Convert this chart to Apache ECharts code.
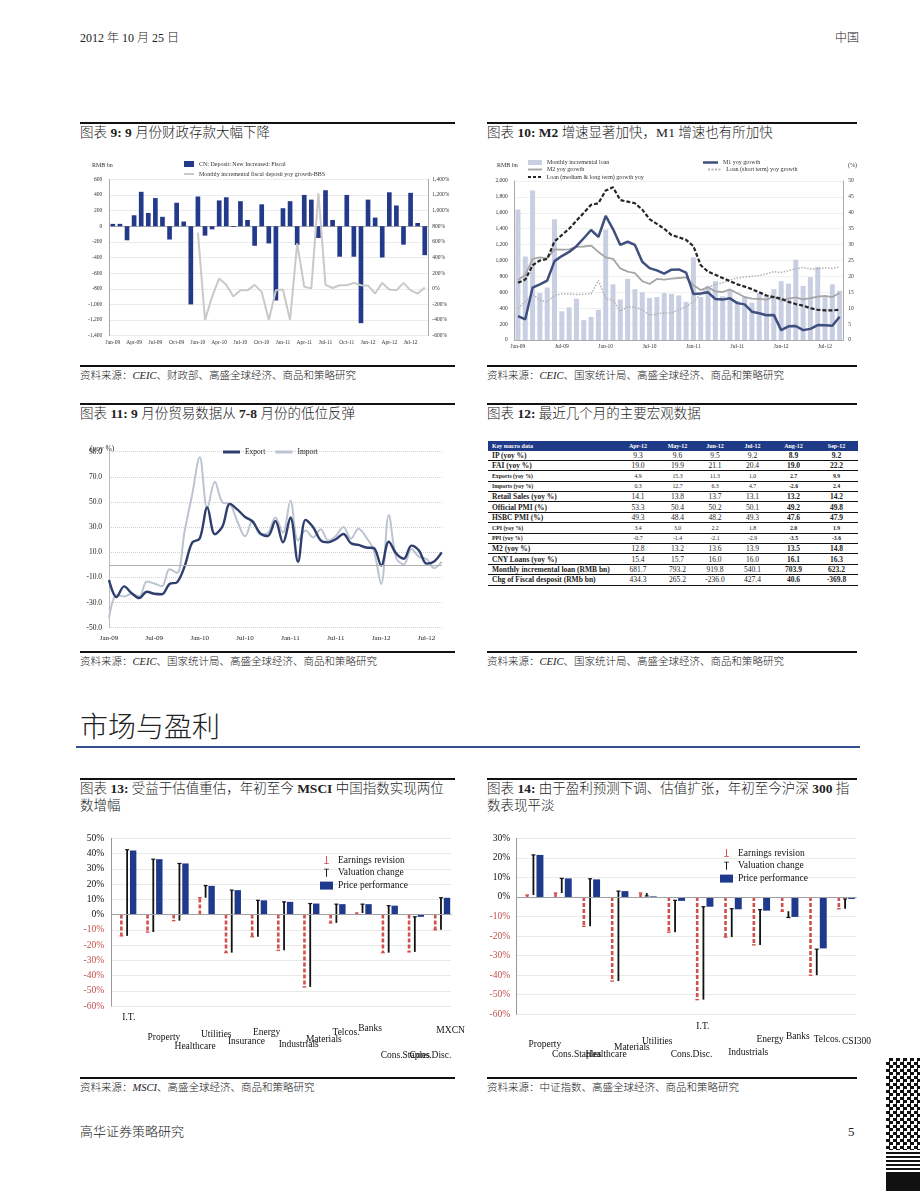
<!DOCTYPE html>
<html><head><meta charset="utf-8">
<script src="https://cdn.jsdelivr.net/npm/echarts/dist/echarts.min.js"></script>
<style>
body{margin:0;background:#fff;}
#page{position:relative;width:920px;height:1191px;overflow:hidden;font-family:"Liberation Serif","Noto Sans CJK SC",serif;color:#222;font-weight:300;}
.t{position:absolute;white-space:nowrap;}
.t b{font-weight:bold;}
.rule{position:absolute;height:2px;background:#111;}
.ttl{font-size:13.5px;line-height:17px;}
.src{font-size:10.5px;line-height:13px;}
.ch{position:absolute;}
#tbl{position:absolute;left:488px;top:441px;width:370px;font-family:"Liberation Serif",serif;font-weight:normal;}
.row{display:flex;height:10.4px;box-sizing:border-box;border-bottom:1.4px solid #111;align-items:center;}
.hdr{height:9.5px;background:#1f3a87;color:#fff;font-weight:bold;font-size:6px;border-bottom:none;}
.cell{text-align:center;}
.big{font-size:7.5px;}
.small{font-size:5.8px;}
.lab{width:130px;padding-left:4px;box-sizing:border-box;font-weight:bold;}
</style></head>
<body><div id="page">
<div class="t" style="left:80px;top:28px;font-size:12px;">2012 年 10 月 25 日</div>
<div class="t" style="left:835px;top:28px;font-size:12px;">中国</div>

<div class="rule" style="left:80px;top:122px;width:375px;"></div>
<div class="t ttl" style="left:80px;top:124px;">图表 <b>9: 9</b> 月份财政存款大幅下降</div>
<div class="rule" style="left:487px;top:122px;width:370px;"></div>
<div class="t ttl" style="left:487px;top:124px;">图表 <b>10: M2</b> 增速显著加快，M1 增速也有所加快</div>

<div id="c9" class="ch" style="left:80px;top:150px;width:380px;height:200px;"></div>
<div id="c10" class="ch" style="left:485px;top:150px;width:380px;height:205px;"></div>

<div class="rule" style="left:80px;top:365px;width:375px;"></div>
<div class="t src" style="left:80px;top:369px;">资料来源：<i>CEIC</i>、财政部、高盛全球经济、商品和策略研究</div>
<div class="rule" style="left:487px;top:365px;width:370px;"></div>
<div class="t src" style="left:487px;top:369px;">资料来源：<i>CEIC</i>、国家统计局、高盛全球经济、商品和策略研究</div>

<div class="rule" style="left:80px;top:403px;width:375px;"></div>
<div class="t ttl" style="left:80px;top:405px;">图表 <b>11: 9</b> 月份贸易数据从 <b>7-8</b> 月份的低位反弹</div>
<div class="rule" style="left:487px;top:403px;width:370px;"></div>
<div class="t ttl" style="left:487px;top:405px;">图表 <b>12:</b> 最近几个月的主要宏观数据</div>

<div id="c11" class="ch" style="left:80px;top:435px;width:380px;height:215px;"></div>
<div id="tbl"></div>

<div class="rule" style="left:80px;top:651px;width:375px;"></div>
<div class="t src" style="left:80px;top:655px;">资料来源：<i>CEIC</i>、国家统计局、高盛全球经济、商品和策略研究</div>
<div class="rule" style="left:487px;top:651px;width:370px;"></div>
<div class="t src" style="left:487px;top:655px;">资料来源：<i>CEIC</i>、国家统计局、高盛全球经济、商品和策略研究</div>

<div class="t" style="left:80px;top:712px;font-size:28px;line-height:32px;">市场与盈利</div>
<div style="position:absolute;left:76px;top:746px;width:784px;height:2px;background:#34508c;"></div>

<div class="rule" style="left:80px;top:778px;width:375px;"></div>
<div class="t ttl" style="left:80px;top:780px;">图表 <b>13:</b> 受益于估值重估，年初至今 <b>MSCI</b> 中国指数实现两位<br>数增幅</div>
<div class="rule" style="left:487px;top:778px;width:370px;"></div>
<div class="t ttl" style="left:487px;top:780px;">图表 <b>14:</b> 由于盈利预测下调、估值扩张，年初至今沪深 <b>300</b> 指<br>数表现平淡</div>

<div id="c13" class="ch" style="left:80px;top:820px;width:390px;height:250px;"></div>
<div id="c14" class="ch" style="left:485px;top:820px;width:390px;height:250px;"></div>

<div class="rule" style="left:80px;top:1077px;width:375px;"></div>
<div class="t src" style="left:80px;top:1081px;">资料来源：<i>MSCI</i>、高盛全球经济、商品和策略研究</div>
<div class="rule" style="left:487px;top:1077px;width:370px;"></div>
<div class="t src" style="left:487px;top:1081px;">资料来源：中证指数、高盛全球经济、商品和策略研究</div>

<div class="t" style="left:80px;top:1124px;font-size:13px;line-height:16px;">高华证券策略研究</div>
<div class="t" style="left:848px;top:1124px;font-size:13px;line-height:16px;">5</div>

<div style="position:absolute;left:886px;top:1058px;width:34px;height:92px;background:repeating-conic-gradient(#111 0 25%,#fff 0 50%) 0 0/7px 7px;"></div>
<div style="position:absolute;left:886px;top:1152px;width:34px;height:18px;background:repeating-linear-gradient(#111 0 2px,#fff 2px 4px);"></div>
<div style="position:absolute;left:886px;top:1172px;width:34px;height:19px;background:#111;"></div>
</div>
<script>
// ---------- shared categories ----------
const months = ['Jan-09','Feb-09','Mar-09','Apr-09','May-09','Jun-09','Jul-09','Aug-09','Sep-09','Oct-09','Nov-09','Dec-09',
 'Jan-10','Feb-10','Mar-10','Apr-10','May-10','Jun-10','Jul-10','Aug-10','Sep-10','Oct-10','Nov-10','Dec-10',
 'Jan-11','Feb-11','Mar-11','Apr-11','May-11','Jun-11','Jul-11','Aug-11','Sep-11','Oct-11','Nov-11','Dec-11',
 'Jan-12','Feb-12','Mar-12','Apr-12','May-12','Jun-12','Jul-12','Aug-12','Sep-12'];

// ---------- chart 9 ----------
const fiscalDeposit = [30,30,-180,140,440,170,360,120,-170,300,60,-1000,
 380,-120,-40,330,370,-10,320,80,-250,280,-220,-950,
 230,320,-240,400,340,-150,460,80,-390,400,-390,-1240,
 340,110,-400,434,265,-236,427,41,-370];
const fiscalYoy = [null,null,null,null,null,null,null,null,null,null,null,null,
 720,-400,-100,130,50,-100,-20,-20,50,-40,-400,-20,
 -10,-400,580,25,5,1220,50,10,45,45,75,45,
 40,-60,75,-10,-20,75,-20,-60,15];

// ---------- chart 10 ----------
const monthlyLoan = [1640,1050,1880,590,660,1520,360,410,520,250,290,380,
 1390,700,510,770,640,600,530,540,590,580,560,480,
 1040,540,680,740,550,630,490,550,470,590,560,640,
 740,710,1010,680,790,920,540,700,620];
const m1Yoy = [7.5,6.5,16.5,17.5,18.7,24.8,26.4,27.7,29.5,32.0,34.6,32.4,
 39.0,34.9,29.9,30.9,29.9,24.6,22.6,21.9,20.9,22.1,22.2,21.2,
 14.5,14.6,15.0,12.9,12.7,13.1,11.6,11.2,8.9,8.4,7.8,7.9,
 3.1,4.3,4.4,3.1,3.5,4.7,4.6,4.5,7.3];
const m2Yoy = [18.8,20.5,25.5,26.0,25.7,28.5,28.4,28.5,29.3,29.4,29.7,27.7,
 26.0,25.5,22.5,21.5,21.0,18.5,17.6,19.2,19.0,19.3,19.5,19.7,
 17.2,15.7,16.6,15.3,15.1,15.9,14.7,13.5,13.0,12.9,12.7,13.6,
 12.4,13.0,13.4,12.8,13.2,13.6,13.9,13.5,14.8];
const shortLoanYoy = [10,12,14.5,12.5,12,14,14.5,14.5,14.3,14.4,14.5,18.7,
 13,12.5,9,10.5,10.3,9.5,7.8,8.2,8.5,8.5,9.5,10.5,
 12,14.5,16.5,17.5,18,18.8,19.5,19.8,20,20.3,20.8,21.5,
 21.2,21.8,22.4,22.8,22.3,22.4,22.7,22.5,23];
const mltLoanYoy = [18,19,23.5,25,25.5,31,33,35,37.5,40,42.5,43,
 47,48,44,43.5,43,41,38,36.5,35,33,32.3,31.5,
 29.5,23.5,21.5,20.5,19.5,18.5,17.5,16.8,16,15,14,13.5,
 13,12,11.3,10.8,10,9.5,9.3,9.3,9.5];

// ---------- chart 11 ----------
const exportYoy = [-12,-25.7,-17.1,-22.6,-26.4,-21.4,-23,-23.4,-15.2,-13.8,-1.2,17.7,
 21,45.7,24.3,30.5,48.5,43.9,38.1,34.4,25.1,22.9,34.9,17.9,
 37.7,2.4,35.8,29.9,19.4,17.9,20.4,24.5,17.1,15.9,13.8,13.4,
 -0.5,18.4,8.9,4.9,15.3,11.3,1.0,2.7,9.9];
const importYoy = [-42,-24.1,-25.1,-23,-25.2,-13.2,-14.9,-17,-3.5,-6.4,26.7,55.9,
 85.5,44.7,66,49.7,48.3,34.1,22.7,35.2,24.1,25.3,37.7,25.6,
 51,19.4,27.3,21.8,28.4,19.3,23,30.2,20.9,28.7,22.1,11.8,
 -15.3,39.6,5.3,0.3,12.7,6.3,4.7,-2.6,2.4];

// ---------- table 12 ----------
const tableMonths = ['Apr-12','May-12','Jun-12','Jul-12','Aug-12','Sep-12'];
const rowIP = ['9.3','9.6','9.5','9.2','8.9','9.2'];
const rowFAI = ['19.0','19.9','21.1','20.4','19.0','22.2'];
const rowExports = ['4.9','15.3','11.3','1.0','2.7','9.9'];
const rowImports = ['0.3','12.7','6.3','4.7','-2.6','2.4'];
const rowRetail = ['14.1','13.8','13.7','13.1','13.2','14.2'];
const rowOfficialPMI = ['53.3','50.4','50.2','50.1','49.2','49.8'];
const rowHSBCPMI = ['49.3','48.4','48.2','49.3','47.6','47.9'];
const rowCPI = ['3.4','3.0','2.2','1.8','2.0','1.9'];
const rowPPI = ['-0.7','-1.4','-2.1','-2.9','-3.5','-3.6'];
const rowM2 = ['12.8','13.2','13.6','13.9','13.5','14.8'];
const rowCNYLoans = ['15.4','15.7','16.0','16.0','16.1','16.3'];
const rowMonthlyLoan = ['681.7','793.2','919.8','540.1','703.9','623.2'];
const rowFiscal = ['434.3','265.2','-236.0','427.4','40.6','-369.8'];

// ---------- chart 13 ----------
const msciCats = ['I.T.','Property','Healthcare','Utilities','Insurance','Energy','Industrials','Materials','Telcos.','Banks','Cons.Staples','Cons.Disc.','MXCN'];
const msciEarnings = [-14,-11.5,-4,11,-25,-14.5,-23.5,-47.5,-5.5,1,-25,-24.5,-10];
const msciValuation = [56.5,47.8,37.5,8,41,23.8,31.8,54.7,12.3,5.8,30.8,23,21];
const msciPrice = [42,36.3,33.5,18.8,16,9.3,8.3,7.2,6.8,6.8,5.8,-1.5,11];

// ---------- chart 14 ----------
const csiCats = ['Property','Cons.Staples','Healthcare','Materials','Utilities','Cons.Disc.','I.T.','Industrials','Energy','Banks','Telcos.','CSI300'];
const csiEarnings = [1,2,-15,-43,2,-18,-52.5,-20.5,-24.5,-7.3,-40,-6];
const csiValuation = [20.5,7.5,24.3,46,-1.5,16.3,47.5,14.5,18,-3.2,13.3,5];
const csiPrice = [21.5,9.5,9,3,0.3,-2,-5,-6.3,-7,-10.2,-26.3,-1];

// layout-only: label offsets [dx, dy] for the staggered category labels
const msciLabelShift = [[4,1.5],[13,21.5],[18,30.5],[13,18.5],[17,25.5],[11,16.5],[17,28.5],[16,23.5],[12,16.5],[10,12.5],[19,39.5],[18,39.5],[12,14.5]];
const csiLabelShift = [[14,21],[17.5,31],[18.5,31],[16,24],[13,18],[19,30.5],[2,3],[19,28.5],[12.5,16],[12,13],[13,16],[14,18]];

const FF = 'Liberation Serif';

// ===== chart 9 =====
(function(){
  const S1='CN: Deposit: New Increased: Fiscal', S2='Monthly incremental fiscal deposit yoy growth-BBS';
  const c = echarts.init(document.getElementById('c9'));
  c.setOption({
    animation:false, textStyle:{fontFamily:FF},
    legend:[
      {data:[{name:S1,icon:'rect'}],left:104,top:11,padding:0,itemWidth:10,itemHeight:6,itemGap:4,textStyle:{fontSize:6,color:'#333',fontFamily:FF}},
      {data:[{name:S2,icon:'path://M0,0H10V2H0Z'}],left:104,top:21,padding:0,itemWidth:10,itemHeight:2,textStyle:{fontSize:6,color:'#333',fontFamily:FF}}
    ],
    graphic:[{type:'text',left:12,top:12,style:{text:'RMB bn',fontSize:6,fill:'#333',fontFamily:FF}}],
    grid:{left:29.3,right:31.7,top:29.3,bottom:14.3},
    xAxis:{type:'category',data:months,axisLine:{lineStyle:{color:'#aaa'}},axisTick:{show:false},
      axisLabel:{interval:2,fontSize:5.5,color:'#333',margin:4,fontFamily:FF}},
    yAxis:[
      {type:'value',min:-1400,max:600,interval:200,axisLine:{show:true,lineStyle:{color:'#aaa'}},
       axisLabel:{fontSize:5.5,color:'#333',margin:7,fontFamily:FF,formatter:v=>v.toLocaleString('en-US')},
       splitLine:{lineStyle:{color:'#d8d8d8',type:'dotted'}}},
      {type:'value',min:-600,max:1400,interval:200,axisLine:{show:true,lineStyle:{color:'#aaa'}},
       axisLabel:{fontSize:5.5,color:'#333',margin:4,fontFamily:FF,formatter:'{value}%'},splitLine:{show:false}}
    ],
    series:[
      {name:S1,type:'bar',data:fiscalDeposit,barWidth:'66%',itemStyle:{color:'#23398a'}},
      {name:S2,type:'line',yAxisIndex:1,data:fiscalYoy,symbol:'none',color:'#c9c9c9',lineStyle:{color:'#c9c9c9',width:2}}
    ]
  });
})();

// ===== chart 10 =====
(function(){
  const c = echarts.init(document.getElementById('c10'));
  const ts={fontSize:6,color:'#333',fontFamily:FF};
  const N1='Monthly incremental loan',N2='M1 yoy growth',N3='M2 yoy growth',N4='Loan (short term) yoy growth',N5='Loan (medium & long term) growth yoy';
  c.setOption({
    animation:false, textStyle:{fontFamily:FF},
    legend:[
      {data:[{name:N1,icon:'rect'}],left:43,top:9.5,padding:0,itemWidth:14,itemHeight:5,textStyle:ts},
      {data:[{name:N2,icon:'path://M0,0H15V2.5H0Z'}],left:218,top:9.5,padding:0,itemWidth:15,itemHeight:2.5,textStyle:ts},
      {data:[{name:N3,icon:'path://M0,0H15V2H0Z'}],left:43,top:16.5,padding:0,itemWidth:14,itemHeight:2,textStyle:ts},
      {data:[{name:N4,icon:'path://M0,0H2V2H0Z M3.5,0H5.5V2H3.5Z M7,0H9V2H7Z M10.5,0H12.5V2H10.5Z'}],left:223,top:16.5,padding:0,itemWidth:14,itemHeight:2,textStyle:ts},
      {data:[{name:N5,icon:'path://M0,0H3V2.2H0Z M5,0H8V2.2H5Z M10,0H13V2.2H10Z'}],left:43,top:24,padding:0,itemWidth:14,itemHeight:2.2,textStyle:ts}
    ],
    graphic:[
      {type:'text',left:12,top:12,style:{text:'RMB bn',fontSize:6,fill:'#333',fontFamily:FF}},
      {type:'text',left:363,top:12,style:{text:'(%)',fontSize:6,fill:'#333',fontFamily:FF}}
    ],
    grid:{left:29.3,right:21.7,top:31,bottom:15},
    xAxis:{type:'category',data:months,axisLine:{lineStyle:{color:'#aaa'}},axisTick:{show:false},
      axisLabel:{interval:5,fontSize:5.5,color:'#333',margin:4,fontFamily:FF}},
    yAxis:[
      {type:'value',min:0,max:2000,interval:200,axisLine:{show:true,lineStyle:{color:'#aaa'}},
       axisLabel:{fontSize:5.5,color:'#333',margin:6.5,fontFamily:FF,formatter:v=>v.toLocaleString('en-US')},
       splitLine:{lineStyle:{color:'#e2e2e2',type:'dotted'}}},
      {type:'value',min:0,max:50,interval:5,axisLine:{show:true,lineStyle:{color:'#aaa'}},
       axisLabel:{fontSize:5.5,color:'#333',margin:5,fontFamily:FF},splitLine:{show:false}}
    ],
    series:[
      {name:N1,type:'bar',data:monthlyLoan,barWidth:'68%',itemStyle:{color:'#c9cfe3'}},
      {name:N4,type:'line',yAxisIndex:1,data:shortLoanYoy,symbol:'none',color:'#b3b3b3',lineStyle:{color:'#b3b3b3',width:1.5,type:'dotted'}},
      {name:N3,type:'line',yAxisIndex:1,data:m2Yoy,symbol:'none',color:'#a6a6a6',lineStyle:{color:'#a6a6a6',width:1.8}},
      {name:N5,type:'line',yAxisIndex:1,data:mltLoanYoy,symbol:'none',color:'#262626',lineStyle:{color:'#262626',width:2.2,type:[4,2]}},
      {name:N2,type:'line',yAxisIndex:1,data:m1Yoy,symbol:'none',color:'#3f4f7e',lineStyle:{color:'#3f4f7e',width:2.5}}
    ]
  });
})();

// ===== chart 11 =====
(function(){
  const c = echarts.init(document.getElementById('c11'));
  c.setOption({
    animation:false, textStyle:{fontFamily:FF},
    legend:{data:[{name:'Export',icon:'path://M0,0H17V3H0Z'},{name:'Import',icon:'path://M0,0H17V3H0Z'}],
      left:143,top:13,padding:0,itemWidth:17,itemHeight:3,itemGap:10,textStyle:{fontSize:7.5,color:'#222',fontFamily:FF}},
    graphic:[{type:'text',left:10,top:10,style:{text:'(yoy %)',fontSize:7.5,fill:'#222',fontFamily:FF}}],
    grid:{left:29,right:18.3,top:16.7,bottom:22.3},
    xAxis:{type:'category',boundaryGap:false,data:months,axisLine:{show:false},axisTick:{show:false},
      axisLabel:{interval:5,fontSize:7,color:'#222',margin:7,fontFamily:FF}},
    yAxis:{type:'value',min:-50,max:90,interval:20,axisLine:{show:true,lineStyle:{color:'#bbb'}},
      axisLabel:{fontSize:7.5,color:'#222',margin:7,fontFamily:FF,formatter:v=>v.toFixed(1)},
      splitLine:{lineStyle:{color:'#cfcfcf',type:'dotted'}}},
    series:[
      {name:'Import',type:'line',data:importYoy,smooth:0.35,symbol:'none',color:'#bcc3d1',lineStyle:{color:'#bcc3d1',width:2},
       markLine:{silent:true,symbol:'none',label:{show:false},lineStyle:{color:'#b0b0b0',type:'solid',width:1.2},data:[{yAxis:0}]}},
      {name:'Export',type:'line',data:exportYoy,smooth:0.35,symbol:'none',color:'#2e3f6d',lineStyle:{color:'#2e3f6d',width:2.4}}
    ]
  });
})();

// ===== table 12 =====
(function(){
  const rows = [
    ['IP (yoy %)',rowIP,'big'],['FAI (yoy %)',rowFAI,'big'],['Exports (yoy %)',rowExports,'small'],['Imports (yoy %)',rowImports,'small'],
    ['Retail Sales (yoy %)',rowRetail,'big'],['Official PMI (%)',rowOfficialPMI,'big'],['HSBC PMI (%)',rowHSBCPMI,'big'],
    ['CPI (yoy %)',rowCPI,'small'],['PPI (yoy %)',rowPPI,'small'],['M2 (yoy %)',rowM2,'big'],['CNY Loans (yoy %)',rowCNYLoans,'big'],
    ['Monthly incremental loan (RMB bn)',rowMonthlyLoan,'big'],['Chg of Fiscal desposit (RMb bn)',rowFiscal,'big']
  ];
  const widths=[40,39,36,39,43,43];
  let h='<div class="row hdr"><div class="lab">Key macro data</div>'+tableMonths.map((m,i)=>`<div class="cell" style="width:${widths[i]}px">${m}</div>`).join('')+'</div>';
  rows.forEach(r=>{
    h+=`<div class="row ${r[2]}"><div class="lab">${r[0]}</div>`+r[1].map((v,i)=>`<div class="cell" style="width:${widths[i]}px;${i>=4?'font-weight:bold;':''}">${v}</div>`).join('')+'</div>';
  });
  document.getElementById('tbl').innerHTML=h;
})();

// ===== charts 13 & 14 =====
function waterfall(id, cats, earn, val, price, shift, cfg){
  const c = echarts.init(document.getElementById(id));
  const RED='#d2504b', NAVY='#1f3a8c', BLK='#111';
  const rich={};
  shift.forEach((s,i)=>{ rich['l'+i]={fontSize:9.5,color:'#111',fontFamily:FF,lineHeight:11,
      padding:[2*s[1],s[0]<0?-2*s[0]:0,0,s[0]>0?2*s[0]:0]}; });
  const dE = cats.map((x,i)=>[i,earn[i]]);
  const dV = cats.map((x,i)=>[i,earn[i],earn[i]+val[i]]);
  const dP = cats.map((x,i)=>[i,price[i]]);
  c.setOption({
    animation:false, textStyle:{fontFamily:FF},
    legend:{orient:'vertical',left:cfg.legLeft,top:cfg.legTop,padding:0,itemWidth:13,itemHeight:8,itemGap:2.8,
      textStyle:{fontSize:9.5,color:'#111',fontFamily:FF},
      data:[{name:'Earnings revision',icon:'path://M2.4,0H3.6V9.2H6V10H0V9.2H2.4Z'},
            {name:'Valuation change',icon:'path://M0,0H6V0.8H3.6V10H2.4V0.8H0Z'},
            {name:'Price performance',icon:'rect'}]},
    grid:cfg.grid,
    xAxis:{type:'category',data:cats,axisLine:{show:false},axisTick:{show:false},
      axisLabel:{interval:0,margin:4,formatter:(v,i)=>`{l${i}|${v}}`,rich:rich}},
    yAxis:{type:'value',min:cfg.min,max:cfg.max,interval:10,axisLine:{show:true,lineStyle:{color:'#999'}},axisTick:{show:false},
      axisLabel:{fontSize:9.5,color:'#111',margin:cfg.lm,fontFamily:FF,
        formatter:v=>v<0?`{n|${v}%}`:`${v}%`,rich:{n:{fontSize:9.5,color:'#c0504d',fontFamily:FF}}},
      splitLine:{lineStyle:{color:'#d4d4d4',type:'dotted'}}},
    series:[
      {name:'Price performance',type:'custom',data:dP,itemStyle:{color:NAVY},
       renderItem:(p,api)=>{
         const i=api.value(0),band=api.size([1,0])[0];
         const a=api.coord([i,0]),b=api.coord([i,api.value(1)]);
         const w=band*0.245,cx=a[0]+band*0.32;
         return {type:'rect',shape:{x:cx-w/2,y:Math.min(a[1],b[1]),width:w,height:Math.max(Math.abs(b[1]-a[1]),0.6)},style:{fill:NAVY}};
       },
       markLine:{silent:true,symbol:'none',label:{show:false},lineStyle:{color:'#a0a0a0',type:'solid',width:1},data:[{yAxis:0}]}},
      {name:'Earnings revision',type:'custom',data:dE,itemStyle:{color:RED},
       renderItem:(p,api)=>{
         const i=api.value(0),band=api.size([1,0])[0];
         const a=api.coord([i,0]),b=api.coord([i,api.value(1)]);
         const x=a[0]-band*0.13;
         return {type:'group',children:[
           {type:'line',shape:{x1:x,y1:a[1],x2:x,y2:b[1]},style:{stroke:RED,lineWidth:2.6,lineDash:[4,2]}},
           {type:'line',shape:{x1:x-1.8,y1:b[1],x2:x+1.8,y2:b[1]},style:{stroke:RED,lineWidth:1.4}}
         ]};
       }},
      {name:'Valuation change',type:'custom',data:dV,itemStyle:{color:BLK},
       renderItem:(p,api)=>{
         const i=api.value(0),band=api.size([1,0])[0];
         const a=api.coord([i,api.value(1)]),b=api.coord([i,api.value(2)]);
         const x=a[0]+band*0.09;
         return {type:'group',children:[
           {type:'line',shape:{x1:x,y1:a[1],x2:x,y2:b[1]},style:{stroke:BLK,lineWidth:1.8}},
           {type:'line',shape:{x1:x-2,y1:b[1],x2:x+2,y2:b[1]},style:{stroke:BLK,lineWidth:1.2}}
         ]};
       }}
    ]
  });
}
waterfall('c13',msciCats,msciEarnings,msciValuation,msciPrice,msciLabelShift,
  {grid:{left:31.7,right:18.3,top:18.3,bottom:64},min:-60,max:50,lm:7.5,legLeft:240,legTop:35});
waterfall('c14',csiCats,csiEarnings,csiValuation,csiPrice,csiLabelShift,
  {grid:{left:31.7,right:18.3,top:18.3,bottom:55.7},min:-60,max:30,lm:6.5,legLeft:235,legTop:28});
</script>
</body></html>
